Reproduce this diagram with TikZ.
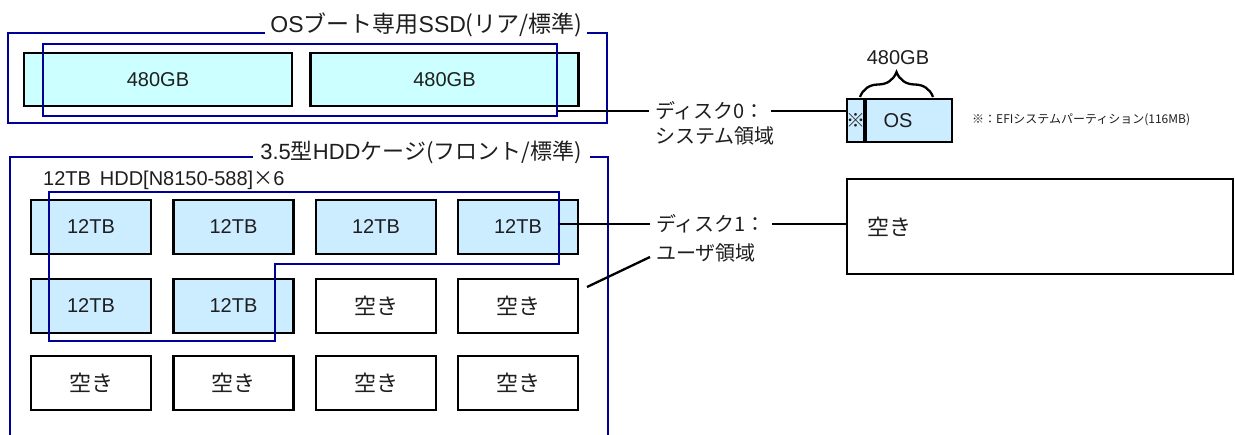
\documentclass[tikz,border=0pt]{standalone}
\usepackage{fontspec}
\setmainfont{Liberation Sans}
\newfontfamily\jp{Noto Sans CJK JP}
\usetikzlibrary{decorations.pathreplacing}
\definecolor{navyb}{RGB}{0,0,150}
\definecolor{ssdfill}{HTML}{CCFFFF}
\definecolor{hddfill}{HTML}{CCECFF}
\definecolor{txt}{RGB}{30,30,30}
\tikzset{
  diskbox/.style={draw=black, line width=2.8pt, minimum width=120pt, minimum height=54pt, inner sep=0pt, text=txt, font=\fontsize{20}{22}\selectfont},
  useddisk/.style={diskbox, fill=hddfill},
  freedisk/.style={diskbox, fill=white, font=\jp\fontsize{22}{24}\selectfont},
  ssddisk/.style={diskbox, fill=ssdfill, minimum width=268pt, minimum height=53pt},
  navyline/.style={draw=navyb, line width=2.3pt},
  conn/.style={draw=black, line width=2.3pt},
  lbl/.style={inner xsep=6pt, inner ysep=0pt, anchor=west, text=txt, font=\jp\fontsize{20}{22}\selectfont},
  ttl/.style={inner sep=0pt, text=txt},
  osbox/.style={draw=black, line width=2.8pt, fill=hddfill, minimum height=43pt, inner sep=0pt, text=txt},
}
\begin{document}
\begin{tikzpicture}[x=1pt,y=-1pt]
\useasboundingbox (0,0) rectangle (1235,434);

% ---------- SSD section ----------
\node[ttl, font=\fontsize{23}{26}\selectfont] (stitle) at (426.5,25) {OS{\jp ブート専用}SSD{\jp (リア/標準)}};
\draw[navyline] (265,33) -- (8,33) -- (8,123) -- (607,123) -- (607,33) -- (587,33);
\node[ssddisk] (s1) at (158,79.5) {480GB};
\node[ssddisk] (s2) at (444.5,79.5) {480GB};
\node[navyline, minimum width=514pt, minimum height=72pt, inner sep=0pt] (sarr) at (300,80) {};

% disk 0 label and connectors
\coordinate (c0) at (557,111);
\node[lbl] (d0a) at (649,111) {ディスク0：};
\node[lbl] (d0b) at (649,136) {システム領域};
\node[osbox, minimum width=17pt, font=\jp\fontsize{19}{20}\selectfont] (efi) at (855.5,120.5) {\makebox[14pt]{※}};
\node[osbox, minimum width=86pt, font=\fontsize{20}{22}\selectfont] (osp) at (909,120.5) {OS\hspace*{22pt}};
\draw[conn] (c0) -- (d0a.west);
\draw[conn] (d0a.east) -- (d0a.east -| efi.west);
\draw[conn, decorate, decoration={brace, amplitude=25pt, aspect=0.5}] (860,97) -- (933,97);
\node[inner sep=0pt, text=txt, font=\fontsize{20}{22}\selectfont] (cap) at (898,58) {480GB};
\node[inner sep=0pt, anchor=west, text=txt, font=\jp\fontsize{12}{14}\selectfont] (fn) at (972,120) {※：EFIシステムパーティション(116MB)};

% ---------- HDD section ----------
\node[ttl, font=\fontsize{22}{26}\selectfont] (htitle) at (421,152) {3.5{\jp 型}HDD{\jp ケージ(フロント/標準)}};
\draw[navyline] (253,157) -- (10,157) -- (10,436);
\draw[navyline] (590,157) -- (608,157) -- (608,436);
\node[inner sep=0pt, anchor=west, text=txt, font=\fontsize{20}{22}\selectfont] (hddnote) at (43,180) {12TB\, HDD[N8150-588]{\jp ×}6};

\node[useddisk] (h11) at (91,227) {12TB};
\node[useddisk] (h12) at (233.5,227) {12TB};
\node[useddisk] (h13) at (376,227) {12TB};
\node[useddisk] (h14) at (518,227) {12TB};
\node[useddisk] (h21) at (91,306) {12TB};
\node[useddisk] (h22) at (233.5,306) {12TB};
\node[freedisk] (h23) at (376,306) {空き};
\node[freedisk] (h24) at (518,306) {空き};
\node[freedisk] (h31) at (91,383) {空き};
\node[freedisk] (h32) at (233.5,383) {空き};
\node[freedisk] (h33) at (376,383) {空き};
\node[freedisk] (h34) at (518,383) {空き};

\draw[navyline] (49,192) -- (559,192) -- (559,264) -- (275,264) -- (275,341) -- (49,341) -- cycle;

% disk 1 label and connectors
\coordinate (c1) at (559,224);
\coordinate (c2) at (587,287);
\node[lbl] (d1a) at (650,224) {ディスク1：};
\node[lbl] (d1b) at (650,253) {ユーザ領域};
\node[draw=black, line width=2.8pt, text width=346pt, inner xsep=20pt, inner ysep=0pt, minimum height=95pt, align=left, text=txt, font=\jp\fontsize{22}{24}\selectfont] (big) at (1040,226.5) {空き};
\draw[conn] (c1) -- (d1a.west);
\draw[conn] (d1a.east) -- (d1a.east -| big.west);
\draw[conn] (c2) -- ([yshift=-4pt]d1b.west);
\end{tikzpicture}
\end{document}
